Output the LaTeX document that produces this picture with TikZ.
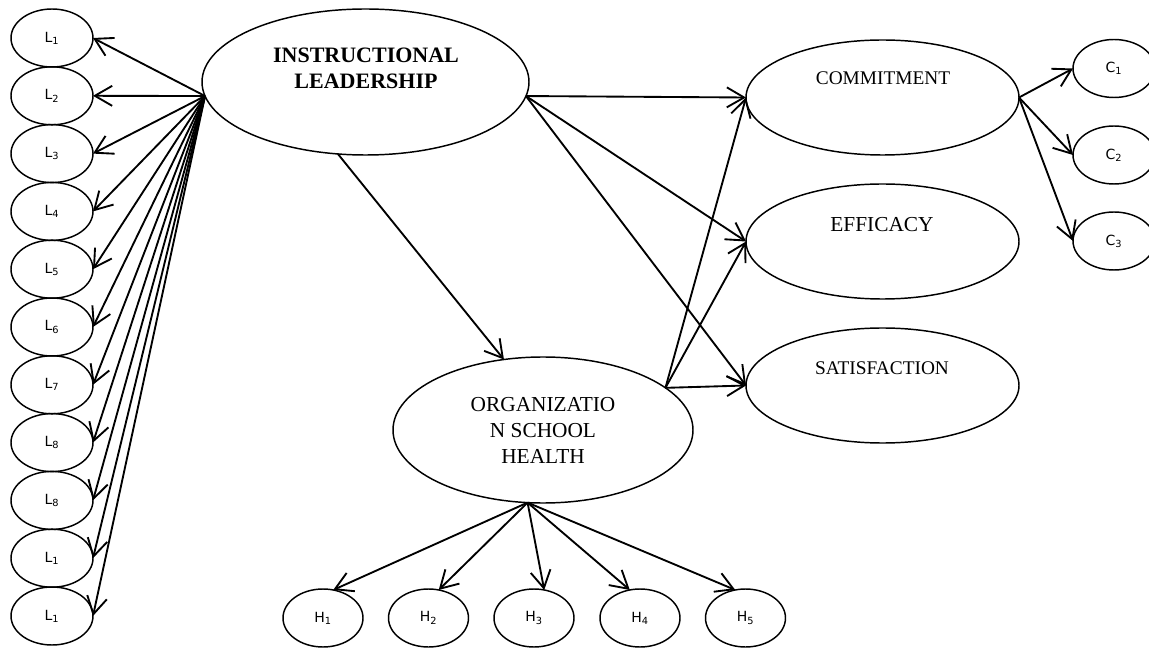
\documentclass[tikz,border=0pt]{standalone}
\usepackage{fontspec}
\setmainfont{Liberation Serif}
\newfontfamily\lfont{DejaVu Sans}
\usetikzlibrary{arrows.meta,shapes.geometric}
\begin{document}
\begin{tikzpicture}[x=0.75pt,y=-0.75pt,
  ell/.style={ellipse,draw,line width=1.1pt,inner sep=0pt,outer sep=0pt},
  bigell/.style={ell,minimum width=245.25pt,minimum height=109.5pt},
  midell/.style={ell,minimum width=204.75pt,minimum height=86.25pt},
  smallell/.style={ell,minimum width=61.5pt,minimum height=43.5pt,font=\lfont\fontsize{10.5}{12}\selectfont},
  hell/.style={ell,minimum width=60pt,minimum height=43.5pt,font=\lfont\fontsize{10.5}{12}\selectfont},
  arr/.style={line width=1.4pt,-{Straight Barb[length=13pt,width=15pt,line width=1.4pt]}},
  lbl/.style={inner sep=0pt,align=center}
]
\useasboundingbox (0,0) rectangle (1149,648);

% main constructs
\node[bigell] (IL) at (365.5,82) {};
\node[lbl,font=\bfseries\fontsize{16.5}{19.5}\selectfont] (ILt) at (366,68) {INSTRUCTIONAL\\LEADERSHIP};

\node[ell,minimum width=225pt,minimum height=109.5pt,align=center,
      font=\fontsize{16}{19.5}\selectfont] (OSH) at (543,430) {ORGANIZATIO\\N SCHOOL\\HEALTH};

\node[midell] (COM) at (882.5,97.5) {};
\node[lbl,font=\fontsize{14.5}{17}\selectfont] (COMt) at (883,78) {COMMITMENT};
\node[midell] (EFF) at (882.5,241.5) {};
\node[lbl,font=\fontsize{16}{19}\selectfont] (EFFt) at (882,225) {EFFICACY};
\node[midell] (SAT) at (882.5,385.5) {};
\node[lbl,font=\fontsize{14.5}{17}\selectfont] (SATt) at (882,368) {SATISFACTION};

% indicators L
\foreach \i/\s in {0/1,1/2,2/3,3/4,4/5,5/6,6/7,7/8,8/8,9/1,10/1}{
  \node[smallell] (L\i) at (52,{38+57.8*\i}) {L\textsubscript{\s}};
  \draw[arr] (IL.185) -- (L\i.east);
}

% indicators C
\node[smallell] (C1) at (1114,68.5) {C\textsubscript{1}};
\node[smallell] (C2) at (1114,155) {C\textsubscript{2}};
\node[smallell] (C3) at (1114,241) {C\textsubscript{3}};
\foreach \c in {C1,C2,C3}{ \draw[arr] (COM.east) -- (\c.west); }

% indicators H
\node[hell] (H1) at (323,618) {H\textsubscript{1}};
\node[hell] (H2) at (428.5,618) {H\textsubscript{2}};
\node[hell] (H3) at (534,618) {H\textsubscript{3}};
\node[hell] (H4) at (640,618) {H\textsubscript{4}};
\node[hell] (H5) at (745.5,618) {H\textsubscript{5}};
\draw[arr] (OSH.258) -- (H1.70);
\draw[arr] (OSH.258) -- (H2.70);
\draw[arr] (OSH.258) -- (H3.70);
\draw[arr] (OSH.258) -- (H4.110);
\draw[arr] (OSH.258) -- (H5.110);

% structural paths
\draw[arr] (IL.249) -- (OSH.119);
\foreach \t in {COM,EFF,SAT}{
  \draw[arr] (IL.-5) -- (\t.west);
  \draw[arr] (OSH.19) -- (\t.west);
}
\end{tikzpicture}
\end{document}
